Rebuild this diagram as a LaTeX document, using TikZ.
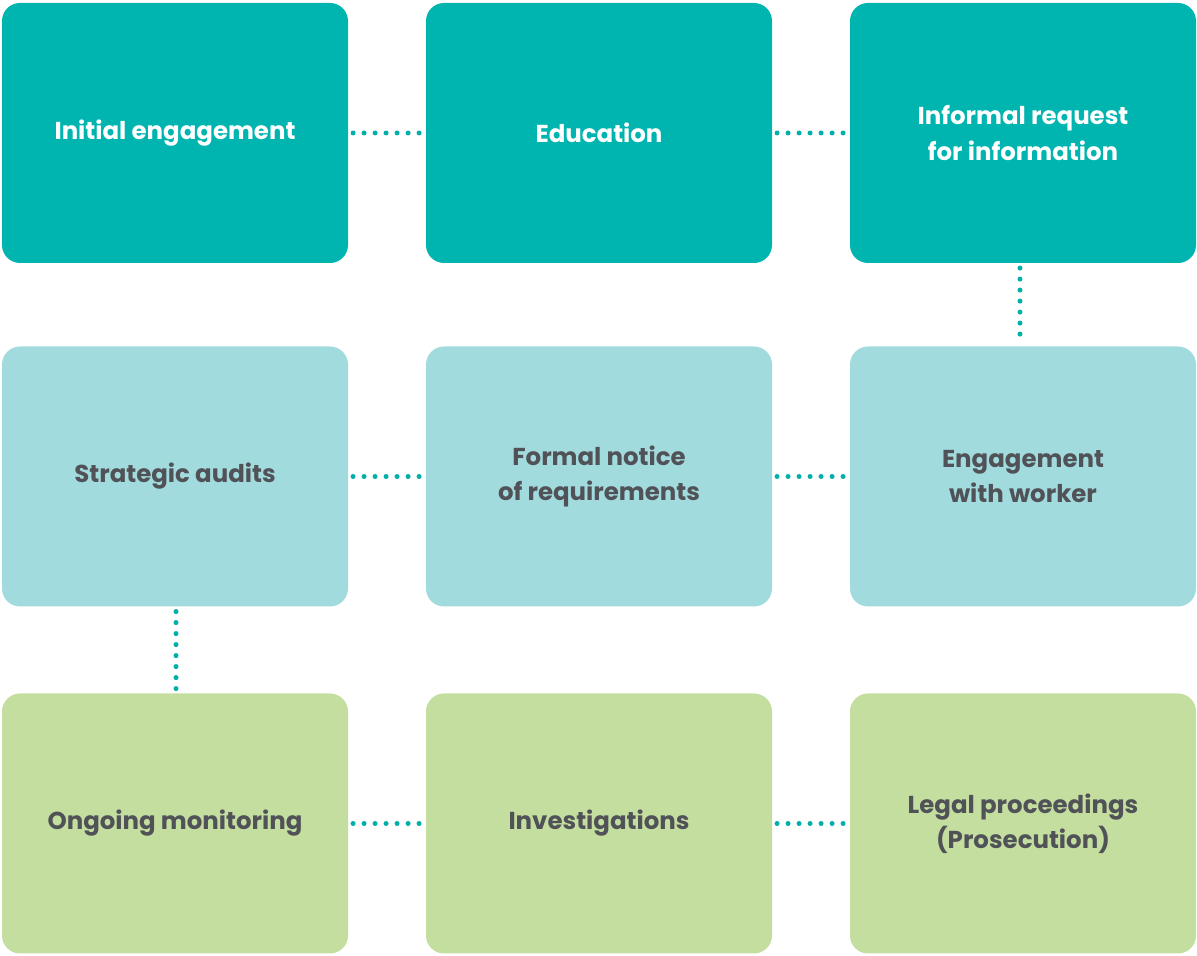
\documentclass[tikz,border=0pt]{standalone}
\usepackage{fontspec}
\setmainfont{Poppins}
\usetikzlibrary{positioning}
\definecolor{tealbox}{HTML}{00B5AF}
\definecolor{bluebox}{HTML}{A1DBDE}
\definecolor{greenbox}{HTML}{C3DE9F}
\definecolor{greytext}{HTML}{505257}
\definecolor{dotcol}{HTML}{00AFA9}
\begin{document}
\begin{tikzpicture}[
    stage/.style = {rounded corners = 0.45cm, minimum width = 8.65cm, minimum height = 6.5cm,
                    align = center, font = \fontsize{17.4}{25}\selectfont\bfseries, inner sep = 0pt},
    top/.style = {stage, fill = tealbox, text = white},
    mid/.style = {stage, fill = bluebox, text = greytext},
    low/.style = {stage, fill = greenbox, text = greytext},
    link/.style = {draw = dotcol, line width = 0.125cm, line cap = round,
                   dash pattern = on 0pt off 0.275cm, shorten <= 0.12cm, shorten >= 0.06cm}
  ]
    \useasboundingbox (0, 0) rectangle (29.925, 23.9);
    \node [top] (engage) at (4.375, 20.575) {Initial engagement};
    \node [top] (educate) at (14.975, 20.575) {Education};
    \node [top] (request) at (25.575, 20.575) {Informal request\\for information};
    \node [mid] (audits) at (4.375, 11.9875) {Strategic audits};
    \node [mid] (notice) at (14.975, 11.9875) {Formal notice\\of requirements};
    \node [mid] (worker) at (25.575, 11.9875) {Engagement\\with worker};
    \node [low] (monitor) at (4.375, 3.3125) {Ongoing monitoring};
    \node [low] (investigate) at (14.975, 3.3125) {Investigations};
    \node [low] (legal) at (25.575, 3.3125) {Legal proceedings\\(Prosecution)};
    \draw [link] (engage) -- (educate);
    \draw [link] (educate) -- (request);
    \draw [link] ([xshift = -0.075cm]request.south) -- ([xshift = -0.075cm]worker.north);
    \draw [link] (audits) -- (notice);
    \draw [link] (notice) -- (worker);
    \draw [link] ([xshift = 0.025cm]audits.south) -- ([xshift = 0.025cm]monitor.north);
    \draw [link] (monitor) -- (investigate);
    \draw [link] (investigate) -- (legal);
\end{tikzpicture}
\end{document}
